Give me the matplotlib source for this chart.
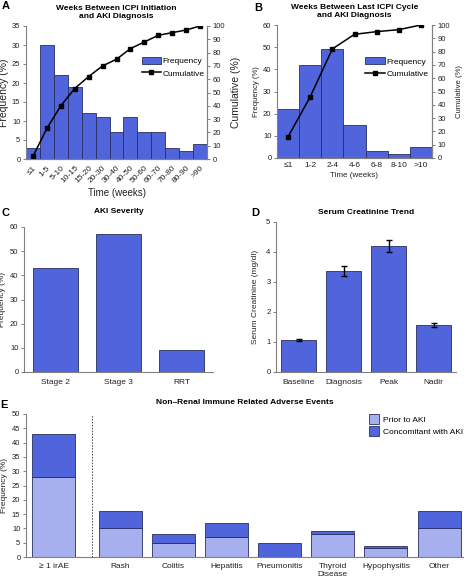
import matplotlib
matplotlib.use("Agg")
import matplotlib.pyplot as plt
from matplotlib.patches import Patch
from matplotlib.lines import Line2D

plt.rcParams['font.family'] = ['Liberation Sans', 'DejaVu Sans']
plt.rcParams['font.size'] = 6

# Panel A
a_labels = ["≤1", "1-5", "5-10", "10-15", "15-20", "20-30", "30-40", "40-50",
            "50-60", "60-70", "70-80", "80-90", ">90"]
a_freq = [3, 30, 22, 19, 12, 11, 7, 11, 7, 7, 3, 2, 4]
a_cum = [2, 23, 40, 53, 62, 70, 75, 83, 88, 93, 95, 97, 100]

# Panel B
b_labels = ["≤1", "1-2", "2-4", "4-6", "6-8", "8-10", ">10"]
b_freq = [22, 42, 49, 15, 3, 2, 5]
b_cum = [16, 46, 82, 93, 95, 96.5, 100]

# Panel C
c_labels = ["Stage 2", "Stage 3", "RRT"]
c_freq = [43, 57, 9]

# Panel D
d_labels = ["Baseline", "Diagnosis", "Peak", "Nadir"]
d_mean = [1.08, 3.37, 4.2, 1.58]
d_err = [0.03, 0.17, 0.2, 0.07]

# Panel E
e_labels = ["≥ 1 irAE", "Rash", "Colitis", "Hepatitis", "Pneumonitis",
            "Thyroid\nDisease", "Hypophysitis", "Other"]
e_prior = [28, 10, 5, 7, 0, 8, 3, 10]
e_total = [43, 16, 8, 12, 5, 9, 4, 16]

BLUE = "#5064dc"
LIGHT = "#a7b0ef"
EDGE = "#2a2f60"
SPINE = "#808080"
TXT = "#222222"
FS = 6
TFS = 5.5   # numeric tick labels

W, H = 466, 578
fig = plt.figure(figsize=(W / 100, H / 100), dpi=100)


def px_axes(l, t, r, b):
    return fig.add_axes([l / W, 1 - b / H, (r - l) / W, (b - t) / H])


def style(ax, right=False):
    ax.spines['top'].set_visible(False)
    ax.spines['right'].set_visible(right)
    for s in ax.spines.values():
        s.set_color(SPINE)
        s.set_linewidth(0.8)
    ax.tick_params(colors=SPINE, labelcolor=TXT, labelsize=TFS, length=2,
                   width=0.7, pad=2)
    ax.tick_params(axis='x', labelsize=FS)


def hist_panel(ax, labels, freq, cum, ymax, ystep, rot, leg_anchor, yfs, xfs):
    x = list(range(len(labels)))
    ax.bar(x, freq, width=1.0, color=BLUE, edgecolor=EDGE, linewidth=0.6)
    ax.set_xlim(-0.5, len(labels) - 0.5)
    ax.set_ylim(0, ymax)
    ax.set_yticks(range(0, ymax + 1, ystep))
    ax.set_xticks(x)
    if rot:
        ax.set_xticklabels(labels, rotation=45, ha='right', rotation_mode='anchor')
    else:
        ax.set_xticklabels(labels)
    ax.set_ylabel("Frequency (%)", color=TXT, labelpad=2, fontsize=yfs)
    ax.set_xlabel("Time (weeks)", color=TXT, labelpad=2, fontsize=xfs)
    style(ax, right=True)
    ax.tick_params(axis='x', length=0, pad=4 if rot else 3)
    ax2 = ax.twinx()
    ax2.plot(x, cum, color='black', marker='s', markersize=3, linewidth=1.1)
    ax2.set_ylim(0, 100)
    ax2.set_yticks(range(0, 101, 10))
    ax2.set_ylabel("Cumulative (%)", color=TXT, labelpad=4, fontsize=yfs)
    style(ax2, right=True)
    ax2.spines['left'].set_visible(False)
    handles = [Patch(facecolor=BLUE, edgecolor=EDGE, linewidth=0.6),
               Line2D([], [], color='black', marker='s', markersize=3, linewidth=1.1)]
    ax2.legend(handles, ["Frequency", "Cumulative"], loc='upper left',
               bbox_to_anchor=leg_anchor, frameon=False, fontsize=FS,
               handlelength=2.3, handleheight=1.0, handletextpad=0.2,
               labelspacing=0.45, borderaxespad=0, borderpad=0)
    return ax2


# A
axA = px_axes(26, 26, 207, 159)
hist_panel(axA, a_labels, a_freq, a_cum, 35, 5, True, (0.64, 0.77), 7.5, 7)
axA.set_title("Weeks Between ICPi Initiation\nand AKI Diagnosis",
              fontsize=FS, fontweight='bold', pad=6)

# B
axB = px_axes(277, 25, 432, 158)
hist_panel(axB, b_labels, b_freq, b_cum, 60, 10, False, (0.57, 0.76), 5.6, 5.8)
axB.set_title("Weeks Between Last ICPi Cycle\nand AKI Diagnosis",
              fontsize=FS, fontweight='bold', pad=6)

# C
axC = px_axes(24, 227, 213, 372)
axC.bar(range(len(c_labels)), c_freq, width=0.7, color=BLUE, edgecolor=EDGE, linewidth=0.6)
axC.set_xlim(-0.5, len(c_labels) - 0.5)
axC.set_ylim(0, 60)
axC.set_yticks(range(0, 61, 10))
axC.set_xticks(range(len(c_labels)))
axC.set_xticklabels(c_labels)
axC.set_ylabel("Frequency (%)", color=TXT, labelpad=3)
axC.set_title("AKI Severity", fontsize=FS, fontweight='bold', pad=10)
style(axC)
axC.tick_params(axis='x', length=0, pad=5)

# D
axD = px_axes(276, 222, 456, 372)
axD.bar(range(len(d_labels)), d_mean, width=0.78, color=BLUE, edgecolor=EDGE, linewidth=0.6,
        yerr=d_err, error_kw=dict(ecolor='black', capsize=2, elinewidth=1, capthick=1))
axD.set_xlim(-0.5, len(d_labels) - 0.5)
axD.set_ylim(0, 5)
axD.set_yticks(range(0, 6))
axD.set_xticks(range(len(d_labels)))
axD.set_xticklabels(d_labels)
axD.set_ylabel("Serum Creatinine (mg/dl)", color=TXT, labelpad=5)
axD.set_title("Serum Creatinine Trend", fontsize=FS, fontweight='bold', pad=6)
style(axD)
axD.tick_params(axis='x', length=0, pad=5)

# E
axE = px_axes(26, 414, 463, 557)
e_x = [0] + [1.25 + i for i in range(len(e_labels) - 1)]
e_conc = [t - p for t, p in zip(e_total, e_prior)]
axE.bar(e_x, e_prior, width=0.81, color=LIGHT, edgecolor=EDGE, linewidth=0.6,
        label="Prior to AKI")
axE.bar(e_x, e_conc, bottom=e_prior, width=0.81, color=BLUE, edgecolor=EDGE,
        linewidth=0.6, label="Concomitant with AKI")
axE.axvline(0.72, color='#444444', linestyle=(0, (1.5, 1.5)), linewidth=0.7)
axE.set_xlim(-0.52, 7.7)
axE.set_ylim(0, 50)
axE.set_yticks(range(0, 51, 5))
axE.set_xticks(e_x)
axE.set_xticklabels(e_labels)
axE.set_ylabel("Frequency (%)", color=TXT, labelpad=3)
axE.set_title("Non\u2013Renal Immune Related Adverse Events", fontsize=FS,
              fontweight='bold', pad=7)
style(axE)
axE.tick_params(axis='x', length=0, pad=4)
axE.legend(loc='upper right', bbox_to_anchor=(1.0, 1.0), frameon=False, fontsize=FS,
           handlelength=1.2, handleheight=1.45, handletextpad=0.5, labelspacing=0.25,
           borderaxespad=0, borderpad=0)

# panel letters
for letter, (px, py) in {"A": (2, 9), "B": (254, 11), "C": (1, 216),
                         "D": (251, 216), "E": (0, 408)}.items():
    fig.text(px / W, 1 - py / H, letter, fontsize=8, fontweight='bold', va='baseline')

fig.savefig("out.png", dpi=100)
